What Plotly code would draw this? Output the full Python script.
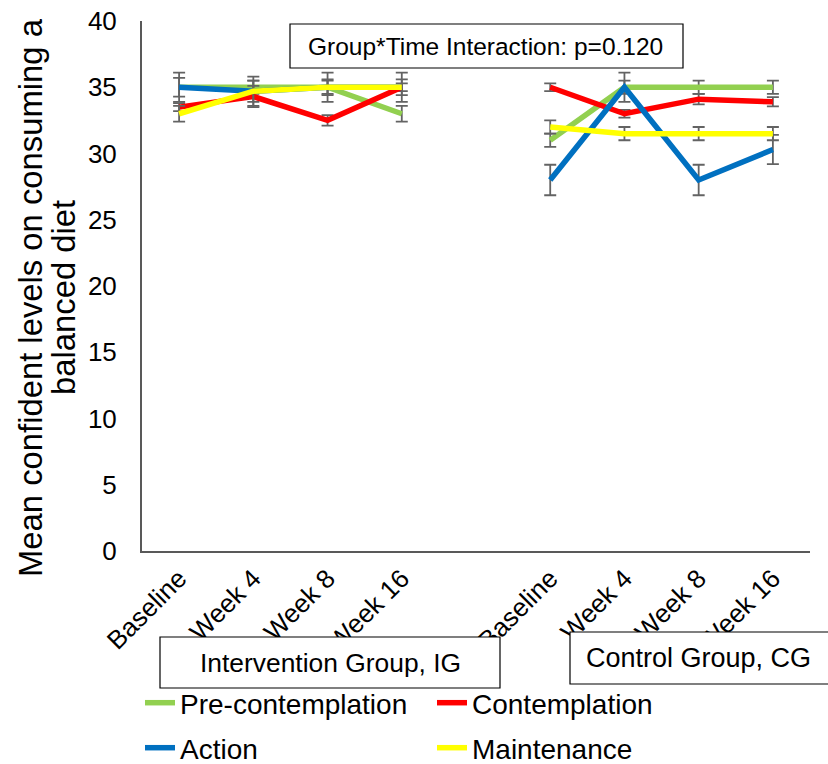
import plotly.graph_objects as go

time_labels = ["Baseline", "Week 4", "Week 8", "Week 16"]
ig_pos = [0, 1, 2, 3]
cg_pos = [5, 6, 7, 8]

series_names = ["Pre-contemplation", "Contemplation", "Action", "Maintenance"]
series_colors = ["#92D050", "#FF0000", "#0070C0", "#FFFF00"]

pre_ig = [35, 35, 35, 33]
pre_cg = [31, 35, 35, 35]
con_ig = [33.5, 34.3, 32.5, 35]
con_cg = [35, 33, 34.1, 33.9]
act_ig = [35, 34.7, 35, 35]
act_cg = [28, 35, 28, 30.3]
mai_ig = [33, 34.7, 35, 35]
mai_cg = [32, 31.5, 31.5, 31.5]

pre_err_ig = [0.7, 0.5, 0.5, 0.6]
pre_err_cg = [0.5, 0.5, 0.5, 0.5]
con_err_ig = [0.3, 0.8, 0.4, 0.3]
con_err_cg = [0.3, 0.3, 0.4, 0.35]
act_err_ig = [1.1, 1.1, 1.1, 1.1]
act_err_cg = [1.15, 1.1, 1.15, 1.1]
mai_err_ig = [0.6, 0.8, 0.6, 0.6]
mai_err_cg = [0.5, 0.5, 0.5, 0.5]

series_ig = [pre_ig, con_ig, act_ig, mai_ig]
series_cg = [pre_cg, con_cg, act_cg, mai_cg]
err_ig = [pre_err_ig, con_err_ig, act_err_ig, mai_err_ig]
err_cg = [pre_err_cg, con_err_cg, act_err_cg, mai_err_cg]

y_title_lines = ["Mean confident levels on consuming a", "balanced diet"]
box_texts = ["Group*Time Interaction: p=0.120", "Intervention Group, IG", "Control Group, CG"]

FONT = "Liberation Sans, Arial, sans-serif"

fig = go.Figure()
x_all = ig_pos + [4] + cg_pos
legends = ["legend", "legend", "legend2", "legend2"]
for i, name in enumerate(series_names):
    y_all = series_ig[i] + [None] + series_cg[i]
    e_all = err_ig[i] + [None] + err_cg[i]
    fig.add_trace(go.Scatter(
        x=x_all, y=y_all, mode="lines", name=name,
        line=dict(color=series_colors[i], width=5.5),
        connectgaps=False,
        error_y=dict(type="data", array=e_all, visible=True,
                     color="#636363", thickness=1.8, width=6),
        legend=legends[i],
    ))

W0, W1 = 142, 810
H0, H1 = 21, 551
def px(x):
    return (x - W0) / (W1 - W0)
def py(y):
    return (H1 - y) / (H1 - H0)

shapes = [
    dict(type="rect", xref="paper", yref="paper", x0=px(290), x1=px(683), y0=py(68), y1=py(24),
         line=dict(color="black", width=1.2), fillcolor="white", layer="above"),
    dict(type="rect", xref="paper", yref="paper", x0=px(160), x1=px(500), y0=py(688), y1=py(637),
         line=dict(color="black", width=1.2), fillcolor="white", layer="above"),
    dict(type="rect", xref="paper", yref="paper", x0=px(570), x1=px(832), y0=py(684), y1=py(632),
         line=dict(color="black", width=1.2), fillcolor="white", layer="above"),
]
annotations = [
    dict(text=box_texts[0], xref="paper", yref="paper", x=px(486), y=py(47),
         xanchor="center", yanchor="middle",
         showarrow=False, font=dict(size=24.5, color="black", family=FONT)),
    dict(text=box_texts[1], xref="paper", yref="paper", x=px(330), y=py(663),
         xanchor="center", yanchor="middle",
         showarrow=False, font=dict(size=26.4, color="black", family=FONT)),
    dict(text=box_texts[2], xref="paper", yref="paper", x=px(698), y=py(658),
         xanchor="center", yanchor="middle",
         showarrow=False, font=dict(size=27, color="black", family=FONT)),
    dict(text=y_title_lines[0], xref="paper", yref="paper", x=px(30), y=py(298),
         xanchor="center", yanchor="middle", textangle=-90,
         showarrow=False, font=dict(size=32.8, color="black", family=FONT)),
    dict(text=y_title_lines[1], xref="paper", yref="paper", x=px(63), y=py(298),
         xanchor="center", yanchor="middle", textangle=-90,
         showarrow=False, font=dict(size=32.8, color="black", family=FONT)),
]

fig.update_layout(
    width=828, height=764,
    margin=dict(l=W0, r=828 - W1, t=H0, b=764 - H1, autoexpand=False),
    paper_bgcolor="white", plot_bgcolor="white",
    font=dict(family=FONT, color="black"),
    showlegend=True,
    legend=dict(orientation="h", x=px(140), y=py(703), xanchor="left", yanchor="middle",
                font=dict(size=28, family=FONT, color="black"),
                entrywidth=247, entrywidthmode="pixels", bgcolor="rgba(0,0,0,0)"),
    legend2=dict(orientation="h", x=px(140), y=py(748), xanchor="left", yanchor="middle",
                 font=dict(size=28, family=FONT, color="black"),
                 entrywidth=247, entrywidthmode="pixels", bgcolor="rgba(0,0,0,0)"),
    xaxis=dict(range=[-0.5, 8.5], tickvals=ig_pos + cg_pos, ticktext=time_labels + time_labels,
               tickangle=-45, tickfont=dict(size=26, family=FONT, color="black"),
               showgrid=False, zeroline=False, showline=True, linecolor="#595959", linewidth=2,
               ticks="", automargin=False),
    yaxis=dict(range=[0, 40], tickvals=list(range(0, 41, 5)),
               tickfont=dict(size=26, family=FONT, color="black"),
               showgrid=False, zeroline=False, showline=True, linecolor="#595959", linewidth=2,
               ticks="", ticklabelstandoff=18, automargin=False),
    shapes=shapes, annotations=annotations,
)

fig.write_html("out.html")
